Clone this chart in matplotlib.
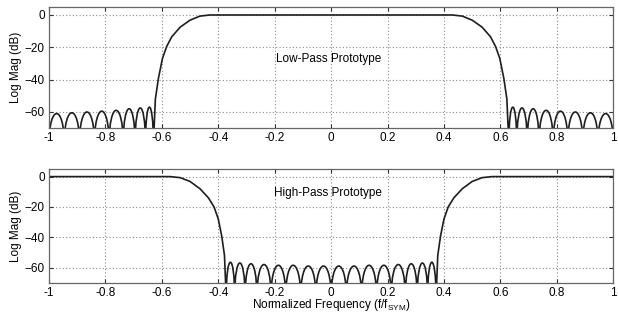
import matplotlib
matplotlib.use("Agg")
import matplotlib.pyplot as plt
from matplotlib.path import Path
from matplotlib.patches import PathPatch

plt.rcParams['font.family'] = ['Liberation Sans', 'DejaVu Sans']

# ---------------- data ----------------
# Low-pass prototype (positive-frequency half, mirrored for negative half)
lp_tr_f  = [0.43, 0.465, 0.50, 0.535, 0.565, 0.583, 0.598, 0.612, 0.623, 0.630]
lp_tr_db = [0.0, -0.7, -3.2, -7.5, -13.5, -19.5, -27.0, -39.0, -52.0, -80.0]
# stopband nulls from transition outwards, and lobe peak levels between them
lp_nulls = [0.630, 0.658, 0.695, 0.737, 0.787, 0.839, 0.892, 0.946, 1.0]
lp_peaks = [-57.0, -57.5, -58.0, -59.0, -59.5, -60.0, -60.5, -61.0]

# High-pass prototype (positive-frequency half, mirrored for negative half)
hp_tr_f  = [0.372, 0.378, 0.388, 0.400, 0.415, 0.435, 0.465, 0.500, 0.535, 0.570]
hp_tr_db = [-80.0, -52.0, -39.0, -28.0, -20.0, -14.0, -8.0, -3.2, -0.7, 0.0]
# stopband nulls from centre outwards, and lobe peak levels between them
hp_nulls = [0.0, 0.054, 0.108, 0.161, 0.213, 0.263, 0.305, 0.342, 0.372]
hp_peaks = [-59.0, -59.0, -58.5, -58.5, -58.0, -57.5, -57.0, -56.5]

xticks = [-1, -0.8, -0.6, -0.4, -0.2, 0, 0.2, 0.4, 0.6, 0.8, 1]
xticklabels = ['-1', '-0.8', '-0.6', '-0.4', '-0.2', '0', '0.2', '0.4', '0.6', '0.8', '1']
yticks = [0, -20, -40, -60]
ylim = (-70, 5)
NULL_DB = -80.0

LINE_COLOR = '#1e1e1e'


def add_arches(verts, codes, nulls, peaks):
    """Append sidelobe arches (cubic Bezier) between consecutive nulls."""
    for x0, x1, p in zip(nulls[:-1], nulls[1:], peaks):
        c = (p - 0.25 * NULL_DB) / 0.75
        verts += [(x0, c), (x1, c), (x1, NULL_DB)]
        codes += [Path.CURVE4] * 3


def lowpass_path():
    verts, codes = [], []
    left_nulls = [-n for n in reversed(lp_nulls)]
    left_peaks = list(reversed(lp_peaks))
    verts.append((left_nulls[0], NULL_DB)); codes.append(Path.MOVETO)
    add_arches(verts, codes, left_nulls, left_peaks)
    for f, d in zip(reversed(lp_tr_f), reversed(lp_tr_db)):
        verts.append((-f, d)); codes.append(Path.LINETO)
    for f, d in zip(lp_tr_f, lp_tr_db):
        verts.append((f, d)); codes.append(Path.LINETO)
    add_arches(verts, codes, lp_nulls, lp_peaks)
    return Path(verts, codes)


def highpass_path():
    verts, codes = [], []
    verts.append((-1.0, 0.0)); codes.append(Path.MOVETO)
    for f, d in zip(reversed(hp_tr_f), reversed(hp_tr_db)):
        verts.append((-f, d)); codes.append(Path.LINETO)
    left_nulls = [-n for n in reversed(hp_nulls)]
    left_peaks = list(reversed(hp_peaks))
    add_arches(verts, codes, left_nulls, left_peaks)
    add_arches(verts, codes, hp_nulls, hp_peaks)
    for f, d in zip(hp_tr_f, hp_tr_db):
        verts.append((f, d)); codes.append(Path.LINETO)
    verts.append((1.0, 0.0)); codes.append(Path.LINETO)
    return Path(verts, codes)


fig = plt.figure(figsize=(6.18, 3.14), dpi=100)
fig.patch.set_facecolor('white')
ax1 = fig.add_axes([0.0793, 0.592, 0.913, 0.386])
ax2 = fig.add_axes([0.0793, 0.0997, 0.913, 0.362])

for ax, path, label, ly in ((ax1, lowpass_path(), 'Low-Pass Prototype', -27.5),
                            (ax2, highpass_path(), 'High-Pass Prototype', -10.8)):
    patch = PathPatch(path, fill=False, lw=1.2, ec=LINE_COLOR,
                      joinstyle='round', capstyle='round', transform=ax.transData)
    ax.add_patch(patch)
    ax.set_xlim(-1, 1)
    ax.set_ylim(*ylim)
    ax.set_xticks(xticks)
    ax.set_xticklabels(xticklabels)
    ax.set_yticks(yticks)
    ax.grid(True, linestyle=(0, (1, 2)), color='#8a8a8a', lw=0.8)
    ax.set_axisbelow(True)
    ax.tick_params(direction='in', length=3, top=True, right=True,
                   labelsize=8.5, colors='#333333', labelcolor='black', pad=3)
    for s in ax.spines.values():
        s.set_color('#666666')
        s.set_linewidth(0.9)
    ax.set_ylabel('Log Mag (dB)', fontsize=8.5, labelpad=2)
    ax.text(-0.01, ly, label, ha='center', va='center', fontsize=8.5)

ax2.set_xlabel('Normalized Frequency (f/f$_{\\mathregular{SYM}}$)', fontsize=8.5, labelpad=-1)

fig.savefig('out.png', dpi=100, facecolor='white')
